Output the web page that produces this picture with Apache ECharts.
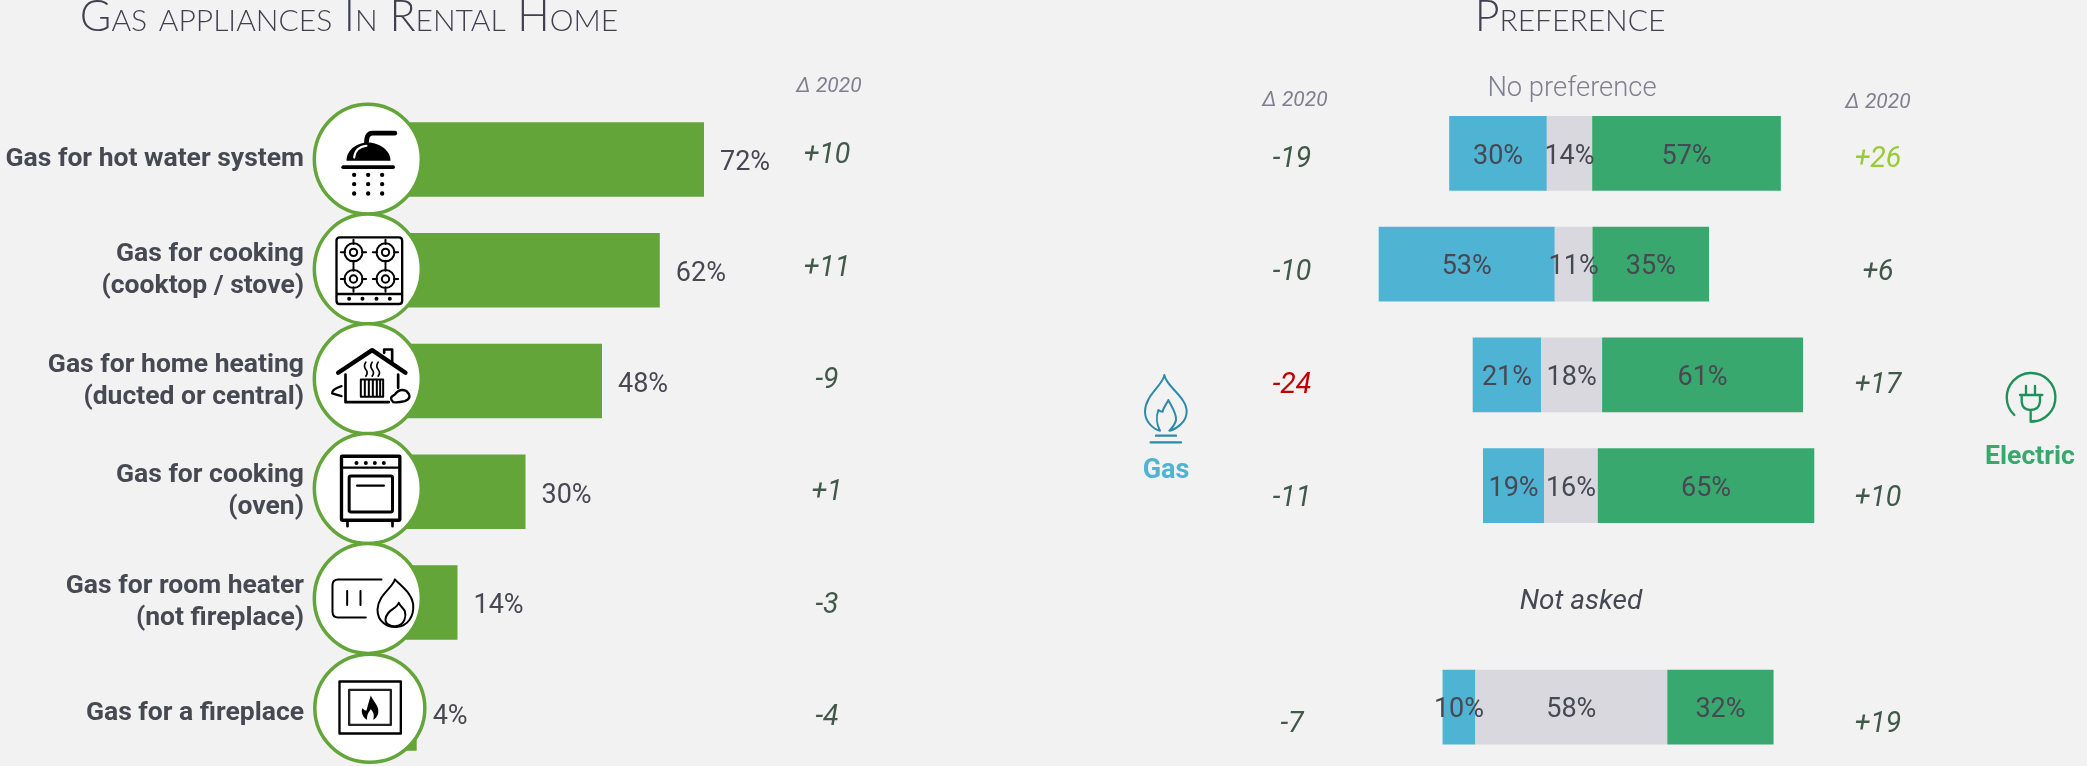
<!DOCTYPE html>
<html><head><meta charset="utf-8">
<style>html,body{margin:0;padding:0;background:#f2f2f2}#c{width:2087px;height:766px}</style>
<script src="https://cdn.jsdelivr.net/npm/echarts@6/dist/echarts.min.js"></script>
</head><body><div id="c"></div>
<script>
const categories = ['Gas for hot water system','Gas for cooking\n(cooktop / stove)','Gas for home heating\n(ducted or central)','Gas for cooking\n(oven)','Gas for room heater\n(not fireplace)','Gas for a fireplace'];
const rentalShare = [72, 61.6, 48, 30, 14, 4.4];
const rentalDelta = [10, 11, -9, 1, -3, -4];
const prefSpacer = [23.2, 1.9, 30.3, 33.4, null, 21.2];
const prefGas = [29.5, 53.2, 20.7, 18.5, null, 9.9];
const prefNone = [13.7, 11.4, 18.4, 16.2, null, 58];
const prefElectric = [57, 35.2, 60.7, 65.4, null, 32.1];
const gasDelta = [-19, -10, -24, -11, null, -7];
const electricDelta = [26, 6, 17, 10, null, 19];

const BG='#f2f2f2', GREEN='#63a538', BLUE='#4fb3d3', GREY='#d8d8de', TEAL='#38a86f', INK='#484853', DELTA='#41594b';
const FONT='Roboto';
const dot=(x,y,r)=>`M${x-r} ${y}a${r} ${r} 0 1 0 ${2*r} 0a${r} ${r} 0 1 0 ${-2*r} 0Z`;
const rr=(x0,y0,x1,y1,r)=>`M${x0+r} ${y0}L${x1-r} ${y0}Q${x1} ${y0} ${x1} ${y0+r}L${x1} ${y1-r}Q${x1} ${y1} ${x1-r} ${y1}L${x0+r} ${y1}Q${x0} ${y1} ${x0} ${y1-r}L${x0} ${y0+r}Q${x0} ${y0} ${x0+r} ${y0}Z`;
const burner=(x,y)=>dot(x,y,27)+dot(x,y,11)+`M${x} ${y-38}L${x} ${y-25}M${x} ${y+25}L${x} ${y+38}M${x-38} ${y}L${x-25} ${y}M${x+25} ${y}L${x+38} ${y}`;
// each icon drawn in a 3x local space centred on its circle
const icons=[
 [{d:'M-64 5C-64 -30 -30 -50 0 -50C30 -50 68 -30 68 5Z',f:'#000'},
  {d:'M-4 -50Q-4 -78 14 -78L81 -78',s:'#000',w:14},
  {d:'M-41 -5Q-38 -36 -4 -40',s:'#fff',w:6},
  {d:'M-74 24L76 24',s:'#000',w:11},
  {d:[47,75,103].map(y=>[-41,1,43].map(x=>dot(x,y,6.5)).join('')).join(''),f:'#000'}],
 [{d:rr(-94,-95,103,105,10)+'M-94 75L103 75',s:'#000',w:7},
  {d:[-56,-16,26,66].map(x=>dot(x,89,6)).join(''),f:'#000'},
  {d:burner(-43,-50)+burner(53,-50)+burner(-43,30)+burner(53,30),s:'#000',w:6}],
 [{d:'M-89 -18L13 -86L113 -18',s:'#000',w:13},
  {d:'M49 -78L49 -88L73 -88L73 -48',s:'#000',w:8},
  {d:'M-67 -13L-67 70L63 70M91 -13L91 27',s:'#000',w:8},
  {d:'M-21 2L46 2L46 54L-21 54ZM-9 2L-9 54M3 2L3 54M15 2L15 54M27 2L27 54M37 2L37 54',s:'#000',w:6},
  {d:'M-6 -50Q-14 -38 -6 -28T-6 -8M13 -50Q5 -38 13 -28T13 -8M31 -50Q23 -38 31 -28T31 -8',s:'#000',w:5},
  {d:'M-79 22Q-109 32 -107 44L-79 52',s:'#000',w:7},
  {d:'M76 70Q61 57 81 47Q96 27 116 37Q136 57 111 67Q91 72 76 70Z',s:'#000',w:7}],
 [{d:rr(-79,-97,96,95,2),s:'#000',w:10},
  {d:'M-79 -63L96 -63',s:'#000',w:7},
  {d:[-34,-6,21,48].map(x=>dot(x,-77,6)).join(''),f:'#000'},
  {d:rr(-56,-38,74,70,5),s:'#000',w:9},
  {d:'M-32 -9L48 -9',s:'#000',w:7},
  {d:'M-61 95L-61 113M74 95L74 113',s:'#000',w:8}],
 [{d:'M41 -57L-89 -57Q-106 -57 -106 -40L-106 40Q-106 57 -89 57L-6 57M-62 -22L-62 20M-22 -22L-22 20',s:'#000',w:6},
  {d:'M81 -57C76 -32 31 -12 29 33C29 68 56 88 86 86C121 83 139 53 136 18C131 -17 96 -42 81 -57Z',s:'#000',w:6},
  {d:'M93 13C86 33 56 33 53 63C53 78 71 86 86 83C111 78 116 53 111 38C106 28 96 23 93 13Z',s:'#000',w:6}],
 [{d:'M-91 -80L93 -80L93 76L-91 76Z',s:'#000',w:7},
  {d:'M-62 -55L63 -55L63 50L-62 50Z',s:'#222',w:7},
  {d:'M3 -38C10 -20 30 -5 25 15C22 28 13 33 10 35C15 20 10 10 3 3C-3 12 -10 20 -8 35C-20 28 -27 15 -23 0C-17 5 -15 7 -10 7C-5 -10 -3 -20 3 -38Z',f:'#000'}]
];
const iconFrames=[{rx:53.5,ry:55,cx:0},{rx:53.5,ry:55,cx:0},{rx:53.5,ry:55,cx:0},{rx:53.5,ry:55,cx:0},{rx:53.5,ry:55,cx:0},{rx:55,ry:54,cx:2}];
const toEl=p=>({type:'path',shape:{pathData:p.d},style:{fill:p.f||'none',stroke:p.s||'none',lineWidth:p.w||0,lineCap:'round',lineJoin:'round'}});

const sgn=d=>d==null?'':(d>0?'+':'')+d;
const deltaColor=d=>d>=20?'#9acb34':d<=-20?'#c00000':DELTA;
const grids=[], xAxes=[], yAxes=[], series=[];
function panel(left,width,top,height,xmin,xmax,yExtra){
  grids.push({left,width,top,height,containLabel:false,outerBoundsMode:'none'});
  xAxes.push({type:'value',gridIndex:grids.length-1,min:xmin,max:xmax,show:false});
  yAxes.push(Object.assign({type:'category',gridIndex:grids.length-1,data:categories,inverse:true,show:false},yExtra||{}));
  return grids.length-1;
}
function deltaColumn(cx,top,height,arr,dy){
  const g=panel(cx-50,100,top,height,-1,1);
  series.push({type:'scatter',xAxisIndex:g,yAxisIndex:g,symbolSize:1,silent:true,itemStyle:{color:'transparent',opacity:1},
    data:arr.map((d,i)=>d==null?null:{value:[0,i],label:{formatter:sgn(d),color:deltaColor(d)}}).filter(Boolean),
    label:{show:true,position:'inside',offset:[0,dy],fontFamily:FONT,fontStyle:'italic',fontSize:28.5,fontWeight:400}});
}
// left bars
const g0=panel(398,425,104,664.8,0,100,{show:true,axisLine:{show:false},axisTick:{show:false},
  axisLabel:{interval:0,margin:94,align:'right',fontFamily:FONT,fontWeight:700,fontSize:26.5,lineHeight:32,color:INK,padding:[12,0,0,0]}});
series.push({type:'bar',xAxisIndex:g0,yAxisIndex:g0,data:rentalShare,barWidth:74.5,itemStyle:{color:GREEN},silent:true,
  label:{show:true,position:'right',distance:16,offset:[0,4],formatter:p=>Math.round(p.value)+'%',fontFamily:FONT,fontSize:27,fontWeight:400,color:INK}});
// icon medallions
const g1=panel(398,425,104.3,658.8,0,100);
series.push({type:'custom',xAxisIndex:g1,yAxisIndex:g1,silent:true,z:5,encode:{x:0,y:1},
  data:categories.map((c,i)=>[-7.1,i]),
  renderItem:(ps,api)=>{
    const i=api.value(1), pt=api.coord([api.value(0),i]), fr=iconFrames[i];
    return {type:'group',x:pt[0]+fr.cx,y:pt[1],children:[
      {type:'ellipse',shape:{cx:0,cy:0,rx:fr.rx,ry:fr.ry},style:{fill:'#fff',stroke:GREEN,lineWidth:3.5}},
      {type:'group',scaleX:1/3,scaleY:1/3,children:icons[i].map(toEl)}]};
  }});
deltaColumn(827,96.5,674,rentalDelta,3.5);
// right stacked bars with a transparent spacer that places each row
const g2=panel(1372.4,463.4,98,664.5,0,140);
const lab={show:true,position:'inside',offset:[0,3.5],formatter:p=>Math.round(p.value)+'%',fontFamily:FONT,fontSize:27,fontWeight:400,color:INK};
series.push({type:'bar',xAxisIndex:g2,yAxisIndex:g2,stack:'p',data:prefSpacer,barWidth:74.7,itemStyle:{color:'transparent'},silent:true});
[[prefGas,BLUE],[prefNone,GREY],[prefElectric,TEAL]].forEach(([d,c])=>series.push({type:'bar',xAxisIndex:g2,yAxisIndex:g2,stack:'p',data:d,barWidth:74.7,itemStyle:{color:c},label:lab,silent:true}));
deltaColumn(1292,99.3,677,gasDelta,4.5);
deltaColumn(1878,99.3,677,electricDelta,4.5);
// side icons
const sideIcon=(x,y,paths)=>({type:'custom',coordinateSystem:'none',silent:true,data:[0],renderItem:()=>({type:'group',x,y,scaleX:1/3,scaleY:1/3,children:paths.map(toEl)})});
series.push(sideIcon(1130,360,[
 {d:'M90 212C70 207 45 185 45 155C45 105 100 75 103 45C108 80 170 110 170 155C170 185 140 207 120 212M90 212C80 195 78 170 85 150C90 155 95 155 98 155C100 140 112 130 115 120C125 140 140 160 138 180C135 195 125 205 118 212',s:'#2d8aa8',w:6},
 {d:'M78 227L138 227M62 247L153 247',s:'#2d8aa8',w:7}]));
series.push(sideIcon(1985,360,[
 {d:'M88 165A73 73 0 1 1 140 185',s:'#1f9058',w:7},
 {d:'M105 105L172 105M110 105L110 125Q112 150 137 150Q162 150 165 125L165 105M123 78L123 105M150 78L150 105M137 150L137 185L150 183',s:'#1f9058',w:7}]));

const txt=(text,x,y,font,fill)=>({type:'text',x,y,silent:true,style:{text,font,fill,textAlign:'center',textVerticalAlign:'middle'}});
const titleStyle={fontFamily:'Lato',fontWeight:300,fontSize:43,fontStyle:'small-caps',color:'#404050'};
const chart=echarts.init(document.getElementById('c'),null,{renderer:'canvas'});
chart.setOption({
  animation:false,backgroundColor:BG,
  title:[{text:'Gas appliances In Rental Home',left:349,top:17,textAlign:'center',textVerticalAlign:'middle',padding:0,textStyle:titleStyle},
         {text:'Preference',left:1570,top:17,textAlign:'center',textVerticalAlign:'middle',padding:0,textStyle:titleStyle}],
  grid:grids,xAxis:xAxes,yAxis:yAxes,series,
  graphic:{elements:[
    txt('Δ 2020',829,87,'italic 21px Roboto','#7f7f8f'),
    txt('Δ 2020',1295,101,'italic 21px Roboto','#7f7f8f'),
    txt('Δ 2020',1878,103,'italic 21px Roboto','#7f7f8f'),
    txt('No preference',1572,89,'300 27.4px Roboto','#7f7f8f'),
    txt('Not asked',1581,602,'italic 28px Roboto',INK),
    txt('Gas',1166,471,'bold 27px Roboto',BLUE),
    txt('Electric',2030,457,'bold 26.6px Roboto',TEAL)
  ]}
});
</script></body></html>
